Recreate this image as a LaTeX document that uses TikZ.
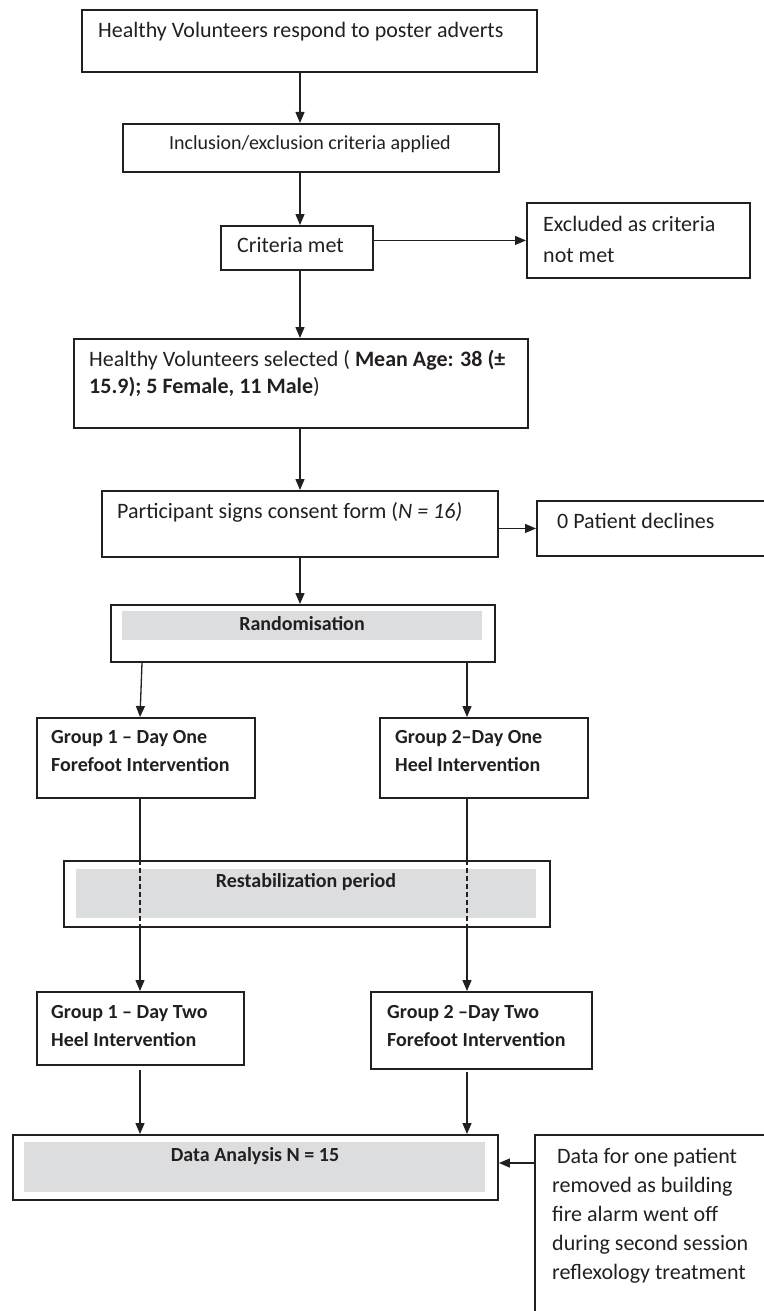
\documentclass[tikz,border=0pt]{standalone}
\usepackage{fontspec}
\setmainfont{Carlito}
\usetikzlibrary{arrows.meta}
\definecolor{ink}{HTML}{231F20}
\definecolor{barfill}{HTML}{DCDDDF}
\tikzset{
  box/.style={draw=ink, line width=1.9pt, inner sep=0pt, rectangle},
  graybar/.style={fill=barfill, draw=none, inner sep=0pt, rectangle},
  txt/.style={text=ink, inner sep=0pt, yshift=-2pt, font=\fontsize{22}{26}\selectfont},
  btxt/.style={text=ink, inner sep=0pt, yshift=-2pt, font=\fontsize{20}{24}\selectfont\bfseries},
  arr/.style={draw=ink, line width=1.3pt, -{Triangle[length=11pt,width=9pt]}},
  link/.style={draw=ink, line width=1.3pt},
  dash link/.style={draw=ink, line width=1.3pt, dash pattern=on 5pt off 3pt},
}
\newcommand{\boxat}[5]{\node[box, anchor=north west, minimum width={#4pt-#2pt}, minimum height={#5pt-#3pt}] (#1) at (#2,#3) {};}
\newcommand{\barat}[5]{\node[graybar, anchor=north west, minimum width={#4pt-#2pt}, minimum height={#5pt-#3pt}] (#1) at (#2,#3) {};}
\begin{document}
\begin{tikzpicture}[x=1pt,y=-1pt]
\useasboundingbox (0,0) rectangle (763,1311);
\coordinate (cm) at (300,0);
\coordinate (cl) at (140,0);
\coordinate (cl2) at (142,0);
\coordinate (cr) at (467,0);

% boxes
\boxat{b1}{81}{9}{536}{71}
\node[txt, anchor=mid west] (t1) at (98,33) {Healthy Volunteers respond to poster adverts};

\boxat{b2}{122}{123}{498}{171}
\node[txt, font=\fontsize{20}{24}\selectfont, anchor=mid] (t2) at (310,145) {Inclusion/exclusion criteria applied};

\boxat{b3}{220}{225}{372}{269}
\node[txt, anchor=mid west] (t3) at (237,248) {Criteria met};

\boxat{b4}{526}{202}{749}{277}
\node[txt, anchor=mid west] (t4a) at (543,227) {Excluded as criteria};
\node[txt, anchor=mid west] (t4b) at (543,258) {not met};

\boxat{b5}{73}{338}{527}{427}
\node[txt, anchor=mid west] (t5a) at (89,362) {Healthy Volunteers selected ( \textbf{Mean Age: 38 (±}};
\node[txt, anchor=mid west] (t5b) at (89,389) {\textbf{15.9); 5 Female, 11 Male})};

\boxat{b6}{101}{490}{497}{556}
\node[txt, anchor=mid west] (t6) at (117,514) {Participant signs consent form (\textit{N = 16)}};

\boxat{b7}{536}{500}{790}{555}
\node[txt, anchor=mid west] (t7) at (557,524) {0 Patient declines};

\boxat{b8}{110}{604}{494}{661}
\barat{g8}{122}{611}{482}{640}
\node[btxt, anchor=mid] (t8) at (302,626) {Randomisation};

\boxat{b9}{36}{717}{254}{797}
\node[btxt, anchor=mid west] (t9a) at (51,739) {Group 1 – Day One};
\node[btxt, anchor=mid west] (t9b) at (51,767) {Forefoot Intervention};

\boxat{b10}{379}{717}{587}{797}
\node[btxt, anchor=mid west] (t10a) at (395,739) {Group 2–Day One};
\node[btxt, anchor=mid west] (t10b) at (395,767) {Heel Intervention};

\boxat{rs}{63}{860}{549}{926}
\barat{grs}{76}{869}{536}{918}
\node[btxt, anchor=mid] (trs) at (306,883) {Restabilization period};

\boxat{b11}{36}{991}{243}{1064}
\node[btxt, anchor=mid west] (t11a) at (51,1014) {Group 1 – Day Two};
\node[btxt, anchor=mid west] (t11b) at (51,1042) {Heel Intervention};

\boxat{b12}{370}{991}{591}{1068}
\node[btxt, anchor=mid west] (t12a) at (387,1014) {Group 2 –Day Two};
\node[btxt, anchor=mid west] (t12b) at (387,1042) {Forefoot Intervention};

\boxat{b13}{12}{1134}{497}{1199}
\barat{g13}{24}{1142}{485}{1192}
\node[btxt, anchor=mid] (t13) at (255,1157) {Data Analysis N = 15};

\boxat{b14}{534}{1134}{790}{1330}
\node[txt, anchor=mid west] (t14a) at (552,1159) {\ Data for one patient};
\node[txt, anchor=mid west] (t14b) at (552,1188) {removed as building};
\node[txt, anchor=mid west] (t14c) at (552,1217) {fire alarm went off};
\node[txt, anchor=mid west] (t14d) at (552,1246) {during second session};
\node[txt, anchor=mid west] (t14e) at (552,1275) {reflexology treatment};

% connectors
\draw[arr] (b1.south -| cm) -- (b2.north -| cm);
\draw[arr] (b2.south -| cm) -- (b3.north -| cm);
\draw[arr] (b3.east |- b4.west) -- (b4.west);
\draw[arr] (b3.south -| cm) -- (b5.north -| cm);
\draw[arr] (b5.south -| cm) -- (b6.north -| cm);
\draw[arr] (b6.east |- b7.west) -- (b7.west);
\draw[arr] (b6.south -| cm) -- (b8.north -| cm);
\draw[arr] (b8.south -| cl2) -- (b9.north -| cl);
\draw[arr] (b8.south -| cr) -- (b10.north -| cr);

\draw[link] (b9.south -| cl) -- (rs.north -| cl);
\draw[dash link] (rs.north -| cl) -- (rs.south -| cl);
\draw[arr] (rs.south -| cl) -- (b11.north -| cl);
\draw[link] (b10.south -| cr) -- (rs.north -| cr);
\draw[dash link] (rs.north -| cr) -- (rs.south -| cr);
\draw[arr] (rs.south -| cr) -- (b12.north -| cr);

\coordinate (b11b) at ([yshift=-4pt]b11.south);
\coordinate (b12b) at ([yshift=-2pt]b12.south);
\draw[arr] (b11b -| cl) -- (b13.north -| cl);
\draw[arr] (b12b -| cr) -- (b13.north -| cr);

\coordinate (m14) at ([yshift=-29pt]b14.north west);
\draw[arr] (m14) -- (m14 -| b13.east);
\end{tikzpicture}
\end{document}
